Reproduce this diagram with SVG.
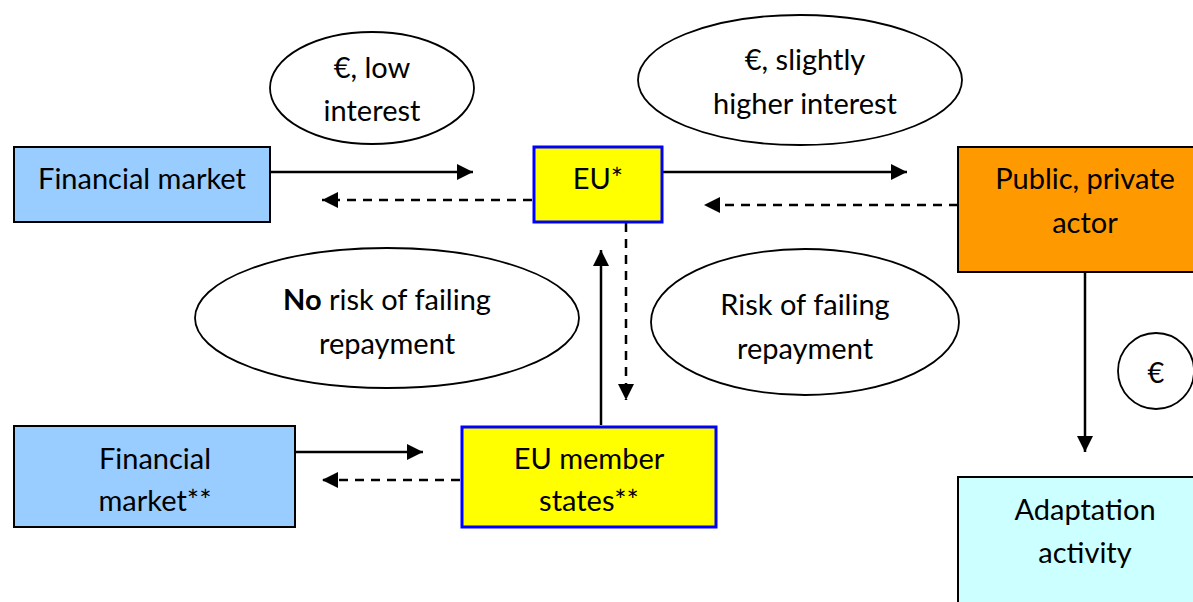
<svg xmlns="http://www.w3.org/2000/svg" width="1193" height="602" viewBox="0 0 1193 602">
<style>
text{font-family:Lato,"Open Sans","Liberation Sans",sans-serif;font-size:29px;fill:#000;text-anchor:middle;dominant-baseline:central}
.box{stroke:#000;stroke-width:2}
.eu{fill:#FFFF00;stroke:#0000FF;stroke-width:3}
.ell{fill:#fff;stroke:#000;stroke-width:1.8}
.solid{stroke:#000;stroke-width:2.5;fill:none;marker-end:url(#ah)}
.dash{stroke:#000;stroke-width:2.5;fill:none;stroke-dasharray:9,7;marker-end:url(#ah)}
</style>
<defs>
<marker id="ah" viewBox="0 0 10 10" refX="10" refY="5" markerUnits="userSpaceOnUse" markerWidth="18" markerHeight="16" orient="auto">
<path d="M0,0 L10,5 L0,10 z" fill="#000"/>
</marker>
</defs>
<rect width="1193" height="602" fill="#fff"/>
<g id="connectors">
<line class="solid" x1="270" y1="172" x2="473" y2="172"/>
<line class="dash" x1="532" y1="200" x2="322" y2="200"/>
<line class="solid" x1="663" y1="172" x2="907" y2="172"/>
<line class="dash" x1="958" y1="205" x2="704" y2="205"/>
<line class="dash" x1="626" y1="223" x2="626" y2="400"/>
<line class="solid" x1="601" y1="425" x2="601" y2="250"/>
<line class="solid" x1="296" y1="452" x2="423" y2="452"/>
<line class="dash" x1="460" y1="480" x2="322" y2="480"/>
<line class="solid" x1="1085" y1="272" x2="1085" y2="452"/>
</g>
<g id="ell-low">
<ellipse class="ell" cx="372" cy="88" rx="102" ry="56"/>
<text x="372" y="66">€, low</text>
<text x="372" y="109">interest</text>
</g>
<g id="ell-higher">
<ellipse class="ell" cx="800" cy="80" rx="162" ry="65"/>
<text x="805" y="58">€, slightly</text>
<text x="805" y="102">higher interest</text>
</g>
<g id="ell-norisk">
<ellipse class="ell" cx="387" cy="318" rx="192" ry="70"/>
<text x="387" y="298"><tspan font-weight="bold">No</tspan> risk of failing</text>
<text x="387" y="342">repayment</text>
</g>
<g id="ell-risk">
<ellipse class="ell" cx="805" cy="322" rx="154" ry="73"/>
<text x="805" y="303">Risk of failing</text>
<text x="805" y="347">repayment</text>
</g>
<g id="ell-euro">
<circle class="ell" cx="1156" cy="371" r="38"/>
<text x="1156" y="371">€</text>
</g>
<g id="fin-market">
<rect class="box" x="14" y="147" width="256" height="75" fill="#99CCFF"/>
<text x="142" y="177">Financial market</text>
</g>
<g id="eu">
<rect class="eu" x="534" y="147" width="128" height="75"/>
<text x="598" y="177">EU*</text>
</g>
<g id="actor">
<rect class="box" x="958" y="147" width="240" height="125" fill="#FF9900"/>
<text x="1085" y="177">Public, private</text>
<text x="1085" y="221">actor</text>
</g>
<g id="fin-market2">
<rect class="box" x="14" y="426" width="281" height="101" fill="#99CCFF"/>
<text x="155" y="457">Financial</text>
<text x="155" y="499">market**</text>
</g>
<g id="member-states">
<rect class="eu" x="462" y="427" width="254" height="100"/>
<text x="589" y="457">EU member</text>
<text x="589" y="499">states**</text>
</g>
<g id="adaptation">
<rect class="box" x="958" y="477" width="240" height="130" fill="#CCFFFF"/>
<text x="1085" y="508">Adaptation</text>
<text x="1085" y="551">activity</text>
</g>
</svg>
